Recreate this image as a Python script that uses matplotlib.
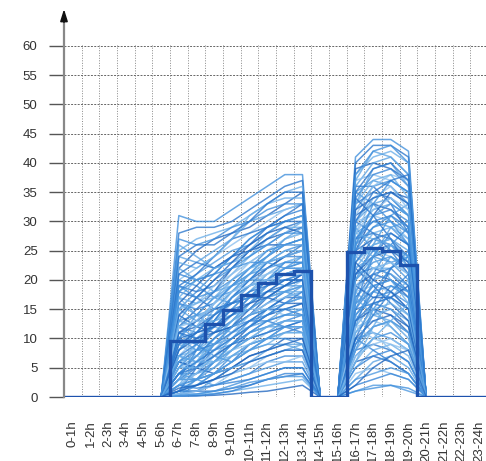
import numpy as np
import matplotlib
matplotlib.use("Agg")
import matplotlib.pyplot as plt

plt.rcParams["font.family"] = ["Liberation Sans", "DejaVu Sans"]

hour_labels = [f"{h}-{h + 1}h" for h in range(24)]

# hourly mean (thick step line)
mean_load = [0, 0, 0, 0, 0, 0, 9.6, 9.6, 12.4, 14.8, 17.4, 19.4, 21.1, 21.5,
             0, 0, 24.7, 25.4, 24.9, 22.6, 0, 0, 0, 0]

# morning block, hours 6-7h .. 13-14h, one row per profile
morning_hours = list(range(6, 14))
morning = [
    [31, 30, 30, 32, 34, 36, 38, 38],
    [28, 29, 29, 30, 32, 34, 36, 37],
    [25, 27, 28, 29, 31, 33, 35, 36],
    [22, 25, 27, 28, 29, 31, 33, 35],
    [24, 23, 25, 27, 30, 31, 32, 33],
    [20, 22, 24, 26, 28, 30, 32, 33],
    [21, 20, 21, 24, 27, 29, 31, 32],
    [18, 21, 23, 25, 26, 28, 30, 31],
    [15, 18, 21, 24, 27, 29, 30, 31],
    [19, 18, 19, 22, 25, 27, 29, 30],
    [17, 16, 18, 21, 24, 27, 29, 29],
    [12, 15, 18, 22, 25, 27, 28, 29],
    [22, 20, 18, 19, 21, 24, 27, 28],
    [14, 16, 19, 21, 23, 25, 27, 28],
    [16, 15, 16, 19, 22, 24, 26, 27],
    [10, 13, 16, 19, 22, 24, 26, 27],
    [13, 14, 17, 18, 20, 23, 25, 26],
    [18, 17, 15, 16, 19, 22, 24, 26],
    [8, 11, 15, 18, 21, 23, 25, 25],
    [11, 12, 14, 17, 20, 22, 24, 25],
    [15, 13, 13, 15, 18, 21, 23, 24],
    [9, 10, 13, 16, 19, 21, 23, 24],
    [12, 11, 12, 14, 17, 20, 22, 23],
    [6, 9, 12, 15, 18, 20, 22, 23],
    [20, 19, 17, 16, 17, 19, 21, 22],
    [10, 9, 11, 13, 16, 19, 21, 22],
    [7, 8, 10, 13, 16, 18, 20, 21],
    [14, 12, 11, 12, 14, 17, 19, 21],
    [5, 7, 10, 13, 15, 17, 19, 20],
    [9, 8, 9, 11, 14, 16, 18, 20],
    [4, 6, 9, 12, 14, 16, 18, 19],
    [12, 10, 9, 10, 12, 15, 17, 19],
    [7, 6, 8, 10, 13, 15, 17, 18],
    [3, 5, 8, 11, 13, 15, 17, 17],
    [17, 14, 12, 11, 12, 14, 15, 16],
    [6, 5, 7, 9, 12, 14, 15, 16],
    [2, 4, 7, 10, 12, 13, 15, 15],
    [9, 7, 6, 8, 10, 12, 14, 15],
    [4, 4, 6, 8, 11, 12, 13, 14],
    [2, 3, 5, 8, 10, 11, 13, 13],
    [11, 9, 7, 6, 8, 10, 12, 13],
    [3, 3, 4, 6, 9, 10, 11, 12],
    [1, 2, 4, 6, 8, 9, 11, 11],
    [6, 5, 4, 5, 7, 8, 10, 10],
    [1, 1, 3, 5, 6, 8, 9, 9],
    [2, 2, 3, 4, 5, 7, 8, 8],
    [0.5, 1, 2, 3, 4, 6, 7, 7],
    [4, 3, 2, 3, 4, 5, 6, 6],
    [0.5, 0.5, 1, 2, 3, 4, 5, 5],
    [1, 1, 1, 1.5, 2, 3, 3.5, 4],
    [0.3, 0.4, 0.6, 1, 1.5, 2, 2.5, 3],
    [0.2, 0.2, 0.3, 0.5, 0.8, 1, 1.5, 2],
    [26, 24, 22, 23, 25, 28, 30, 31],
    [5, 9, 14, 18, 20, 21, 22, 22],
    [3, 8, 13, 17, 19, 20, 20, 21],
    [8, 12, 16, 19, 20, 20, 19, 19],
    [13, 17, 20, 22, 23, 23, 22, 22],
    [1, 5, 9, 12, 14, 15, 15, 14],
    [2, 6, 10, 13, 15, 17, 18, 18],
    [16, 19, 22, 24, 25, 26, 26, 26],
    [0.5, 3, 6, 9, 11, 12, 12, 12],
    [7, 10, 12, 14, 15, 15, 14, 14],
    [4, 7, 10, 12, 13, 13, 12, 11],
    [10, 14, 17, 19, 21, 22, 23, 23],
    [0.3, 2, 4, 7, 9, 10, 10, 9],
    [19, 21, 24, 27, 28, 29, 30, 30],
    [23, 22, 24, 27, 31, 33, 34, 34],
    [11, 13, 15, 16, 17, 17, 16, 16],
    [3, 4, 5, 7, 8, 9, 9, 8],
    [5, 6, 7, 8, 9, 11, 12, 12],
    [0.1, 0.2, 0.5, 1, 2, 3, 4, 4],
    [8, 11, 14, 16, 17, 18, 18, 17],
    [27, 26, 27, 29, 30, 32, 33, 33],
    [21, 23, 22, 24, 26, 29, 31, 33],
    [17, 20, 22, 23, 24, 26, 28, 30],
    [14, 17, 20, 23, 26, 28, 29, 28],
    [12, 14, 15, 18, 21, 24, 27, 29],
    [9, 12, 16, 20, 23, 25, 26, 26],
    [7, 9, 13, 17, 20, 23, 24, 24],
    [16, 14, 14, 17, 19, 20, 22, 24],
    [5, 8, 11, 14, 17, 20, 23, 23],
    [11, 10, 12, 15, 16, 18, 19, 20],
    [3, 6, 9, 12, 16, 19, 21, 22],
    [8, 10, 11, 12, 15, 18, 20, 20],
    [13, 12, 13, 14, 15, 17, 18, 19],
    [2, 4, 8, 11, 14, 16, 17, 18],
    [6, 8, 9, 11, 13, 14, 16, 17],
    [10, 8, 8, 9, 11, 13, 14, 15],
    [1, 3, 6, 9, 11, 13, 14, 14],
    [4, 5, 7, 9, 10, 11, 12, 13],
    [7, 6, 6, 7, 9, 10, 11, 11],
    [1, 2, 3, 5, 7, 8, 9, 10],
    [3, 3, 4, 5, 6, 7, 8, 9],
    [0.5, 1, 2, 4, 5, 6, 6, 7],
    [2, 1.5, 2, 2.5, 3, 4, 5, 5],
    [0.2, 0.5, 1, 1.5, 2.5, 3, 3.5, 3.5],
    [19, 17, 18, 20, 22, 25, 26, 27],
    [24, 26, 26, 28, 30, 33, 35, 35],
    [15, 16, 17, 20, 22, 23, 24, 25],
    [9, 11, 12, 14, 16, 17, 19, 21],
    [6, 7, 9, 12, 14, 15, 16, 17],
    [12, 13, 16, 18, 19, 20, 21, 21],
    [4, 6, 8, 10, 12, 14, 16, 18],
    [2, 3, 4, 6, 8, 10, 12, 12],
    [18, 20, 21, 22, 24, 26, 28, 28],
    [10, 11, 14, 16, 18, 19, 20, 20],
    [5, 5, 6, 8, 10, 12, 13, 13],
    [1.5, 2, 3, 4, 6, 7, 8, 8],
]

# evening block, hours 16-17h .. 19-20h
evening_hours = list(range(16, 20))
evening = [
    [41, 44, 44, 42], [40, 43, 43, 41], [38, 41, 42, 40], [39, 40, 39, 37],
    [36, 40, 41, 38], [37, 38, 37, 35], [34, 38, 39, 36], [35, 37, 36, 33],
    [32, 36, 37, 35], [33, 35, 34, 31], [30, 34, 35, 33], [31, 33, 32, 29],
    [29, 32, 33, 31], [30, 31, 30, 27], [27, 31, 32, 30], [28, 30, 29, 26],
    [26, 29, 30, 28], [27, 28, 27, 24], [24, 28, 29, 27], [25, 27, 26, 23],
    [23, 26, 27, 25], [24, 25, 24, 21], [21, 25, 26, 24], [22, 24, 23, 20],
    [20, 23, 24, 22], [21, 22, 21, 18], [18, 22, 23, 21], [19, 21, 20, 17],
    [17, 20, 21, 19], [18, 19, 18, 15], [15, 19, 20, 18], [16, 18, 17, 14],
    [14, 17, 18, 16], [15, 16, 15, 12], [12, 16, 17, 15], [13, 15, 14, 11],
    [11, 14, 15, 13], [12, 13, 12, 9], [9, 12, 13, 11], [10, 11, 10, 8],
    [7, 10, 11, 9], [8, 9, 8, 6], [5, 8, 9, 7], [6, 7, 6, 4],
    [3, 6, 7, 5], [4, 5, 4, 3], [2, 3, 4, 3], [1, 2, 2, 1],
    [35, 33, 30, 26], [30, 28, 25, 21], [26, 24, 20, 16], [22, 19, 16, 13],
    [18, 15, 12, 9], [14, 11, 8, 6], [10, 8, 6, 4], [20, 26, 31, 33],
    [15, 21, 26, 29], [10, 16, 22, 25], [6, 12, 17, 20], [25, 31, 35, 34],
    [33, 39, 40, 36], [28, 34, 36, 32], [16, 24, 28, 26], [12, 20, 24, 22],
    [8, 15, 19, 18], [36, 36, 33, 28], [24, 22, 22, 24], [19, 17, 17, 19],
    [37, 42, 41, 38], [31, 36, 38, 37], [13, 18, 22, 24], [29, 25, 23, 24],
    [38, 42, 43, 40], [35, 39, 40, 37], [33, 37, 38, 34], [32, 34, 35, 33],
    [30, 33, 34, 31], [28, 32, 34, 32], [27, 30, 31, 29], [26, 31, 33, 31],
    [25, 29, 31, 28], [23, 27, 28, 26], [22, 26, 27, 23], [21, 24, 25, 23],
    [20, 24, 26, 24], [19, 22, 23, 21], [17, 21, 22, 19], [16, 19, 20, 18],
    [14, 18, 19, 17], [13, 16, 17, 15], [11, 15, 16, 14], [10, 13, 14, 12],
    [8, 12, 13, 10], [7, 9, 10, 8], [5, 7, 8, 6], [3, 4, 5, 4],
    [1, 1.5, 2, 1.5], [34, 31, 27, 22], [28, 27, 26, 22], [23, 20, 18, 15],
    [17, 14, 13, 11], [12, 10, 9, 8], [9, 14, 18, 21], [18, 24, 29, 30],
    [26, 33, 37, 35], [30, 35, 37, 38], [6, 10, 13, 16], [2, 5, 7, 8],
]

line_colors = ["#3f8fdc", "#2a76cc", "#6aaee8", "#1f66bf", "#5aa2e2",
               "#8cc0ee", "#3483d6", "#4c98e0"]


def main():
    fig = plt.figure(figsize=(4.86, 4.61), dpi=100)
    ax = fig.add_axes([64 / 486, 64 / 461, 424 / 486, 352 / 461])

    x = np.arange(24)
    for i, row in enumerate(morning):
        prof = np.zeros(24)
        prof[morning_hours] = row
        prof[evening_hours] = evening[i % len(evening)]
        ax.plot(x, prof, color=line_colors[i % len(line_colors)],
                lw=1.1, alpha=0.78, zorder=2)

    ax.stairs(mean_load, np.arange(25) - 0.5, baseline=None,
              color="#1d52ad", lw=2.4, zorder=4)

    ax.set_xlim(-0.5, 23.5)
    ax.set_ylim(0, 60.15)
    ax.set_yticks(np.arange(0, 61, 5))
    ax.set_xticks(x)
    ax.set_xticklabels(hour_labels, rotation=90, va="top", ha="center")
    ax.set_xticks(np.arange(25) - 0.5, minor=True)

    ax.grid(axis="y", which="major", color="#666666", lw=0.7,
            linestyle=(0, (2.0, 1.4)), zorder=1)
    ax.grid(axis="x", which="minor", color="#888888", lw=0.7,
            linestyle=(0, (1.0, 1.6)), zorder=1)
    ax.grid(axis="x", which="major", visible=False)

    for s in ax.spines.values():
        s.set_visible(False)
    ax.tick_params(axis="y", length=11, width=1.0, color="#555555",
                   labelsize=9.5, labelcolor="#333333", pad=8)
    ax.tick_params(axis="x", which="both", length=0, labelsize=9.5,
                   labelcolor="#333333", pad=17)

    # vertical axis with arrow
    ax.plot([0, 0], [0, 1.06], transform=ax.transAxes, color="#888888",
            lw=1.6, clip_on=False, zorder=5)
    ax.annotate("", xy=(0, 1.11), xycoords="axes fraction",
                xytext=(0, 1.04), textcoords="axes fraction",
                arrowprops=dict(arrowstyle="-|>,head_length=0.7,head_width=0.22",
                                color="#111111", lw=1.2))

    fig.savefig("out.png", dpi=100)


if __name__ == "__main__":
    main()
